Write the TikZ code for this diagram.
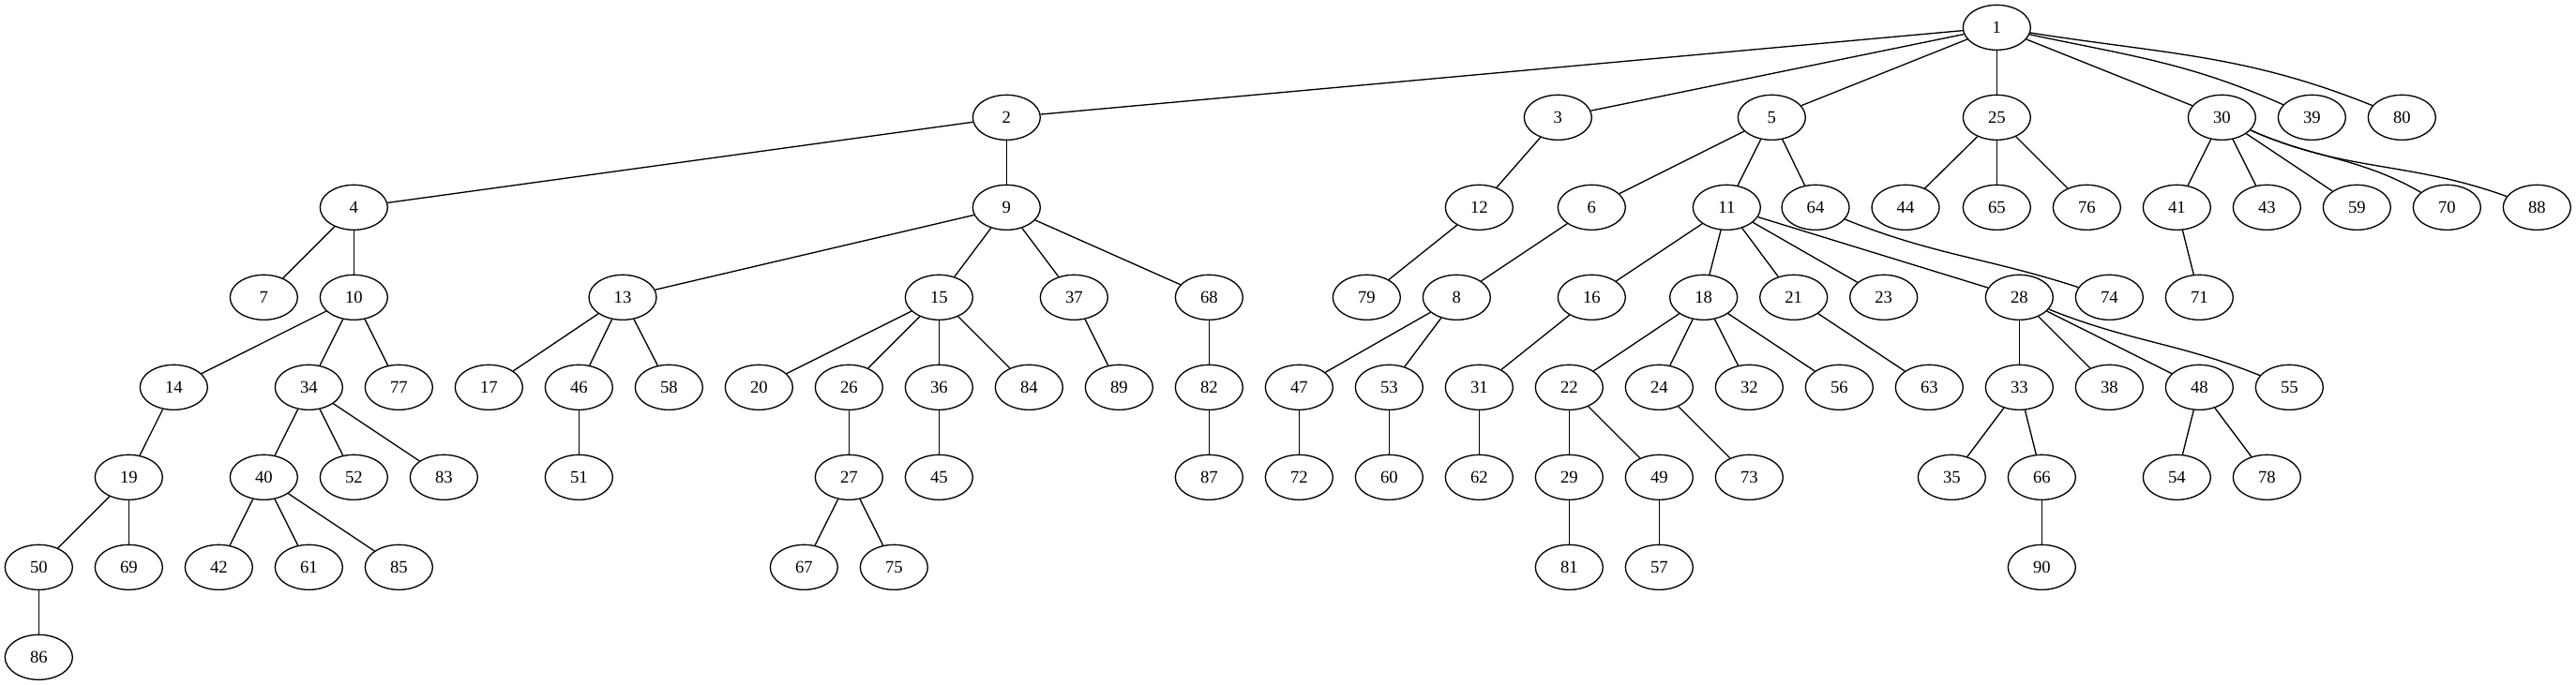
\documentclass[tikz,border=0pt]{standalone}
\usepackage{fontspec}
\setmainfont{Liberation Serif}
\usetikzlibrary{shapes.geometric}
\begin{document}
\begin{tikzpicture}[x=1pt,y=-1pt,
  nd/.style={draw,ellipse,line width=1pt,minimum width=54pt,minimum height=36pt,inner sep=0pt,font=\fontsize{14}{16}\selectfont},
  ed/.style={line width=1pt}]
\useasboundingbox (0,0) rectangle (2060.25,548.25);
% row 0
\node[nd] (n1) at (1597,22) {1};
% row 1
\node[nd] (n2) at (805,94) {2};
\node[nd] (n3) at (1246,94) {3};
\node[nd] (n5) at (1417,94) {5};
\node[nd] (n25) at (1597,94) {25};
\node[nd] (n30) at (1777,94) {30};
\node[nd] (n39) at (1849,94) {39};
\node[nd] (n80) at (1921,94) {80};
% row 2
\node[nd] (n4) at (283,166) {4};
\node[nd] (n9) at (805,166) {9};
\node[nd] (n12) at (1183,166) {12};
\node[nd] (n6) at (1273,166) {6};
\node[nd] (n11) at (1381,166) {11};
\node[nd] (n64) at (1452,166) {64};
\node[nd] (n44) at (1524,166) {44};
\node[nd] (n65) at (1597,166) {65};
\node[nd] (n76) at (1669,166) {76};
\node[nd] (n41) at (1741,166) {41};
\node[nd] (n43) at (1813,166) {43};
\node[nd] (n59) at (1885,166) {59};
\node[nd] (n70) at (1957,166) {70};
\node[nd] (n88) at (2029,166) {88};
% row 3
\node[nd] (n7) at (211,238) {7};
\node[nd] (n10) at (283,238) {10};
\node[nd] (n13) at (498,238) {13};
\node[nd] (n15) at (751,238) {15};
\node[nd] (n37) at (859,238) {37};
\node[nd] (n68) at (967,238) {68};
\node[nd] (n79) at (1093,238) {79};
\node[nd] (n8) at (1165,238) {8};
\node[nd] (n16) at (1273,238) {16};
\node[nd] (n18) at (1362.5,238) {18};
\node[nd] (n21) at (1434.5,238) {21};
\node[nd] (n23) at (1506.5,238) {23};
\node[nd] (n28) at (1615,238) {28};
\node[nd] (n74) at (1687,238) {74};
\node[nd] (n71) at (1759,238) {71};
% row 4
\node[nd] (n14) at (139,310) {14};
\node[nd] (n34) at (247,310) {34};
\node[nd] (n77) at (319,310) {77};
\node[nd] (n17) at (391,310) {17};
\node[nd] (n46) at (463,310) {46};
\node[nd] (n58) at (535,310) {58};
\node[nd] (n20) at (607,310) {20};
\node[nd] (n26) at (679,310) {26};
\node[nd] (n36) at (751,310) {36};
\node[nd] (n84) at (823,310) {84};
\node[nd] (n89) at (895,310) {89};
\node[nd] (n82) at (967,310) {82};
\node[nd] (n47) at (1039,310) {47};
\node[nd] (n53) at (1111,310) {53};
\node[nd] (n31) at (1183,310) {31};
\node[nd] (n22) at (1255,310) {22};
\node[nd] (n24) at (1327,310) {24};
\node[nd] (n32) at (1399,310) {32};
\node[nd] (n56) at (1471,310) {56};
\node[nd] (n63) at (1543,310) {63};
\node[nd] (n33) at (1615,310) {33};
\node[nd] (n38) at (1687,310) {38};
\node[nd] (n48) at (1759,310) {48};
\node[nd] (n55) at (1831,310) {55};
% row 5
\node[nd] (n19) at (103,382) {19};
\node[nd] (n40) at (211,382) {40};
\node[nd] (n52) at (283,382) {52};
\node[nd] (n83) at (355,382) {83};
\node[nd] (n51) at (463,382) {51};
\node[nd] (n27) at (679,382) {27};
\node[nd] (n45) at (751,382) {45};
\node[nd] (n87) at (967,382) {87};
\node[nd] (n72) at (1039,382) {72};
\node[nd] (n60) at (1111,382) {60};
\node[nd] (n62) at (1183,382) {62};
\node[nd] (n29) at (1255,382) {29};
\node[nd] (n49) at (1327,382) {49};
\node[nd] (n73) at (1399,382) {73};
\node[nd] (n35) at (1561,382) {35};
\node[nd] (n66) at (1633,382) {66};
\node[nd] (n54) at (1741,382) {54};
\node[nd] (n78) at (1813,382) {78};
% row 6
\node[nd] (n50) at (31,454) {50};
\node[nd] (n69) at (103,454) {69};
\node[nd] (n42) at (175,454) {42};
\node[nd] (n61) at (247,454) {61};
\node[nd] (n85) at (319,454) {85};
\node[nd] (n67) at (643,454) {67};
\node[nd] (n75) at (715,454) {75};
\node[nd] (n81) at (1255,454) {81};
\node[nd] (n57) at (1327,454) {57};
\node[nd] (n90) at (1633,454) {90};
% row 7
\node[nd] (n86) at (31,526) {86};
% straight edges
\foreach \a/\b in {1/2,1/3,1/5,1/25,1/30,
  2/4,2/9,3/12,5/6,5/11,5/64,25/44,25/65,25/76,30/41,30/43,30/59,
  4/7,4/10,9/13,9/15,9/37,9/68,12/79,6/8,11/16,11/18,11/21,11/23,11/28,41/71,
  10/14,10/34,10/77,13/17,13/46,13/58,15/20,15/26,15/36,15/84,37/89,68/82,
  8/47,8/53,16/31,18/22,18/24,18/32,18/56,21/63,28/33,28/38,28/48,
  14/19,34/40,34/52,34/83,46/51,26/27,36/45,82/87,47/72,53/60,31/62,
  22/29,22/49,24/73,33/35,33/66,48/54,48/78,
  19/50,19/69,40/42,40/61,40/85,27/67,27/75,29/81,49/57,66/90,50/86}
  {\draw[ed] (n\a) -- (n\b);}
% curved edges
\draw[ed] (n1) to[out=-12,in=156] (n39);
\draw[ed] (n1) to[out=-9,in=158] (n80);
\draw[ed] (n30) to[out=-24,in=150] (n70);
\draw[ed] (n30) to[out=-24,in=160] (n88);
\draw[ed] (n64) to[out=-22,in=162] (n74);
\draw[ed] (n28) to[out=-22,in=158] (n55);
\end{tikzpicture}
\end{document}
